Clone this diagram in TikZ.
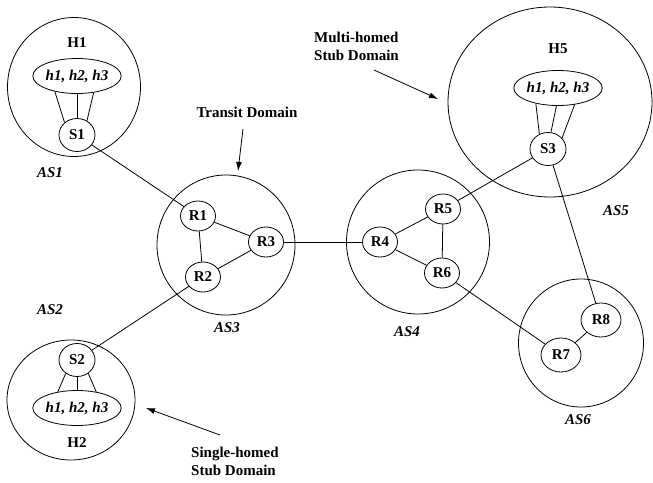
\documentclass[tikz,border=0pt]{standalone}
\usepackage{fontspec}
\setmainfont{Liberation Serif}
\usetikzlibrary{shapes.geometric,arrows.meta}
\begin{document}
\begin{tikzpicture}[x=1pt,y=-1pt,
  every node/.style={font=\fontsize{15}{18}\selectfont\bfseries},
  dom/.style={draw,ellipse,inner sep=0pt,line width=0.8pt},
  sw/.style={draw,ellipse,inner sep=0pt,minimum width=36pt,minimum height=33pt,line width=0.8pt},
  rt/.style={draw,ellipse,inner sep=0pt,minimum width=35pt,minimum height=30pt,line width=0.8pt},
  rtb/.style={rt,minimum width=40pt,minimum height=34pt},
  hosts/.style={draw,ellipse,inner sep=0pt,minimum width=81pt,minimum height=35pt,font=\fontsize{15}{18}\selectfont\bfseries\itshape,line width=0.8pt},
  aslabel/.style={font=\fontsize{15}{18}\selectfont\bfseries\itshape},
  link/.style={line width=0.8pt},
  pointer/.style={line width=0.8pt,-{Latex[length=9pt,width=6pt]}},
  note/.style={align=left,inner sep=0pt}
]
\useasboundingbox (0,0) rectangle (653,482);

% domains
\node[dom,minimum width=133pt,minimum height=139pt] (as1) at (74,87) {};
\node[dom,minimum width=128pt,minimum height=120pt] (as2) at (71,400) {};
\node[dom,minimum width=138pt,minimum height=140pt] (as3) at (226,245) {};
\node[dom,minimum width=143pt,minimum height=144pt] (as4) at (418,242) {};
\node[dom,minimum width=204pt,minimum height=190pt] (as5) at (550,102) {};
\node[dom,minimum width=125pt,minimum height=128pt] (as6) at (581,343) {};

% AS1
\node (H1) at (77,43) {H1};
\node[hosts] (h1) at (77,76) {h1, h2, h3};
\node[sw] (S1) at (77,135) {S1};
\draw[link] (h1.-145) -- (S1.135);
\draw[link] (h1.-90) -- (S1.90);
\draw[link] (h1.-45) -- (S1.55);
\node[aslabel] (l1) at (50,173) {AS1};

% AS2
\node[sw] (S2) at (77,360) {S2};
\node[hosts] (h2) at (77,408) {h1, h2, h3};
\node (H2) at (77,443) {H2};
\draw[link] (S2.-130) -- (h2.140);
\draw[link] (S2.-90) -- (h2.90);
\draw[link] (S2.-50) -- (h2.40);
\node[aslabel] (l2) at (50,310) {AS2};

% AS3
\node[rt] (R1) at (198,216) {R1};
\node[rt] (R2) at (203,277) {R2};
\node[rt] (R3) at (266,242) {R3};
\draw[link] (R1) -- (R2);
\draw[link] (R1) -- (R3);
\draw[link] (R2) -- (R3);
\node[aslabel] (l3) at (227,328) {AS3};

% AS4
\node[rt] (R4) at (380,242) {R4};
\node[rt] (R5) at (443,209) {R5};
\node[rt] (R6) at (442,273) {R6};
\draw[link] (R4) -- (R5);
\draw[link] (R4) -- (R6);
\draw[link] (R5) -- (R6);
\node[aslabel] (l4) at (407,332) {AS4};

% AS5
\node (H5) at (558,49) {H5};
\node[hosts] (h5) at (558,88) {h1, h2, h3};
\node[sw] (S3) at (548,149) {S3};
\draw[link] (h5.-145) -- (S3.120);
\draw[link] (h5.-95) -- (S3.80);
\draw[link] (h5.-45) -- (S3.38);
\node[aslabel] (l5) at (616,211) {AS5};

% AS6
\node[rtb] (R7) at (561,355) {R7};
\node[rtb] (R8) at (601,320) {R8};
\draw[link] (R7) -- (R8);
\node[aslabel] (l6) at (578,420) {AS6};

% inter-domain links
\draw[link] (S1) -- (R1);
\draw[link] (R2) -- (S2);
\draw[link] (R3) -- (R4);
\draw[link] (R5) -- (S3);
\draw[link] (S3) -- (R8);
\draw[link] (R6) -- (R7);

% annotations
\node (tr) at (247,112) {Transit Domain};
\coordinate (trA) at (243,129);
\coordinate (trB) at (238,171);
\draw[pointer] (trA) -- (trB);

\node[note,anchor=west] (mh) at (314,46) {Multi-homed\\Stub Domain};
\coordinate (mhA) at (374,70);
\coordinate (mhB) at (438,99);
\draw[pointer] (mhA) -- (mhB);

\node[note,anchor=west] (sh) at (191,461) {Single-homed\\Stub Domain};
\coordinate (shA) at (220,435);
\coordinate (shB) at (146,408);
\draw[pointer] (shA) -- (shB);
\end{tikzpicture}
\end{document}
